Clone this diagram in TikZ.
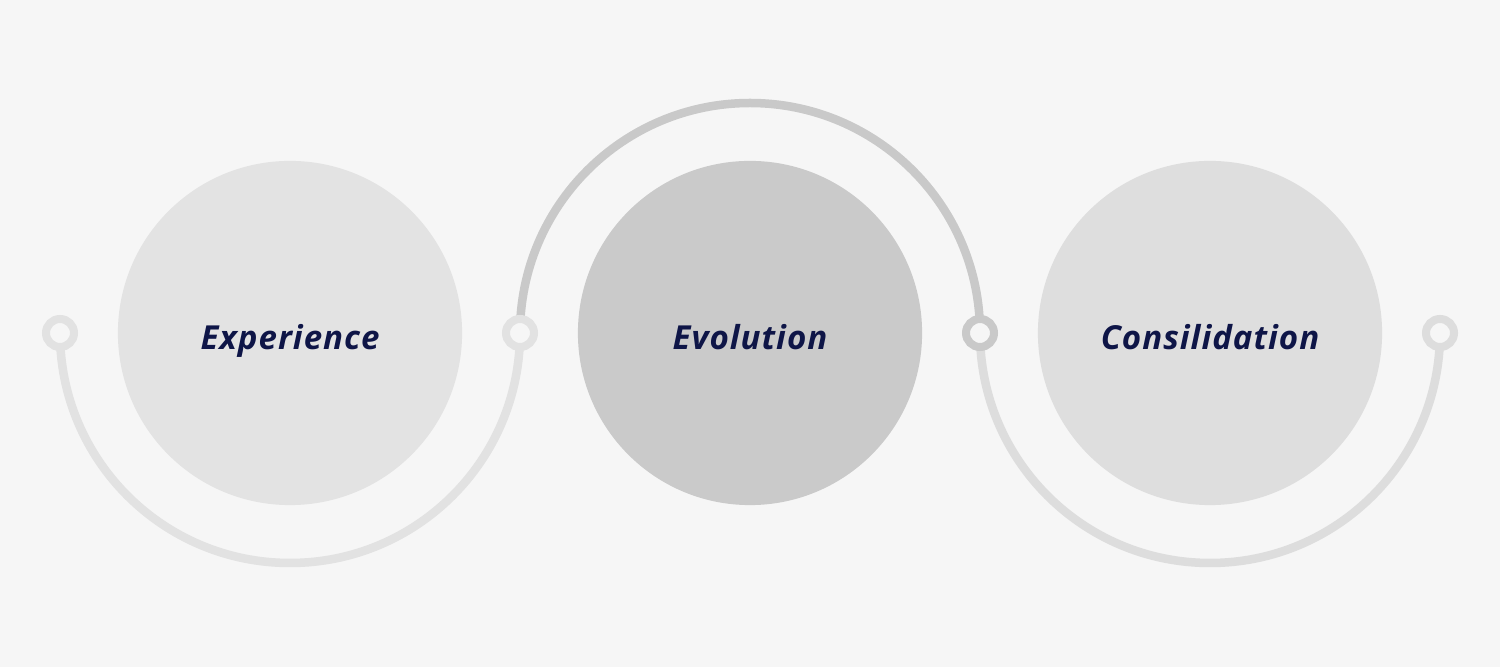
\documentclass[tikz,border=0pt]{standalone}
\usepackage{fontspec}
\setmainfont{Open Sans}
\newfontfamily\labelfont[LetterSpace=3]{Open Sans}
\definecolor{bg}{HTML}{F6F6F6}
\definecolor{cL}{HTML}{E3E3E3}
\definecolor{cM}{HTML}{CACACA}
\definecolor{cR}{HTML}{DEDEDE}
\definecolor{aL}{HTML}{E2E2E2}
\definecolor{aM}{HTML}{C9C9C9}
\definecolor{aR}{HTML}{DDDDDD}
\definecolor{navy}{HTML}{0E1547}
\begin{document}
\begin{tikzpicture}[x=0.01cm,y=0.01cm,
  bigcirc/.style={circle,minimum size=3.44cm,inner sep=0pt,text=navy,
    font=\labelfont\fontsize{9.4pt}{11pt}\selectfont\bfseries\itshape,text height=6.5pt,text depth=0pt},
  ring/.style={circle,minimum size=0.28cm,inner sep=0pt,line width=0.08cm,fill=bg},
  arcline/.style={line width=0.085cm}]
\fill[bg] (0,0) rectangle (1500,667);
\useasboundingbox (0,0) rectangle (1500,667);
% big circles
\node[bigcirc,fill=cL] (c1) at (290,334) {\raisebox{-0.05cm}{Experience}};
\node[bigcirc,fill=cM] (c2) at (750,334) {\raisebox{-0.05cm}{Evolution}};
\node[bigcirc,fill=cR] (c3) at (1210,334) {\raisebox{-0.05cm}{Consilidation}};
% ring positions
\coordinate (p1) at (60,334);
\coordinate (p2) at (520,334);
\coordinate (p3) at (980,334);
\coordinate (p4) at (1440,334);
% arcs
\draw[arcline,draw=aL] (p1) arc[start angle=180,end angle=360,radius=230];
\draw[arcline,draw=aM] (p2) arc[start angle=180,end angle=0,radius=230];
\draw[arcline,draw=aR] (p3) arc[start angle=180,end angle=360,radius=230];
% rings
\node[ring,draw=aL] (r1) at (p1) {};
\node[ring,draw=aL] (r2) at (p2) {};
\node[ring,draw=aM] (r3) at (p3) {};
\node[ring,draw=aR] (r4) at (p4) {};
\end{tikzpicture}
\end{document}
